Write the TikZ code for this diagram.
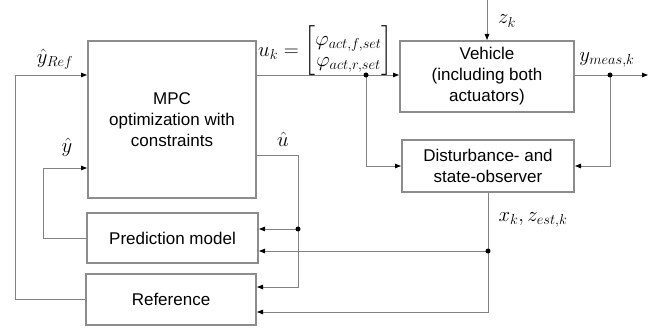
\documentclass[tikz,border=0pt]{standalone}
\usepackage{amsmath}
\usepackage{fontspec}
\setmainfont{Liberation Sans}
\usetikzlibrary{arrows.meta}
\definecolor{boxgray}{RGB}{140,140,140}
\definecolor{linegray}{RGB}{130,130,130}
\tikzset{
  blk/.style={draw=boxgray, line width=2pt, fill=white, align=center, inner sep=2pt,
    font=\fontsize{17}{21}\selectfont},
  conn/.style={draw=linegray, line width=0.8pt},
  arr/.style={conn, -{Triangle[length=6pt,width=4.5pt,color=black]}},
  lbl/.style={font=\fontsize{20}{24}\selectfont, inner sep=0pt},
  dotc/.style={circle, fill=black, inner sep=0pt, minimum size=5pt}
}
\begin{document}
\begin{tikzpicture}[x=1pt,y=-1pt]
\useasboundingbox (0,0) rectangle (660,331);
% blocks
\node[blk, minimum width=168pt, minimum height=157pt] (MPC) at (172,119.5) {MPC\\optimization  with\\constraints};
\node[blk, minimum width=174pt, minimum height=71pt] (Veh) at (487,76.5) {Vehicle\\(including  both\\actuators)};
\node[blk, minimum width=172pt, minimum height=52pt] (Dist) at (488,166) {Disturbance-  and\\state-observer};
\node[blk, minimum width=171pt, minimum height=50pt] (Pred) at (172.5,238) {Prediction  model};
\node[blk, minimum width=170pt, minimum height=51pt] (Ref) at (171,299.5) {Reference};
% coordinates
\coordinate (d1) at (366,75);
\coordinate (d2) at (610,75);
\coordinate (out) at (648,75);
\coordinate (ztop) at (487,0);
\coordinate (yl) at (15,75);
\coordinate (yh) at (43,168);
\coordinate (uh) at (298,155);
\coordinate (d3) at (298,229);
\coordinate (ur) at (298,287);
\coordinate (d4) at (488,251);
\coordinate (xb) at (488,312);
% connectors
\draw[conn] (MPC.east|-d1) -- (d1);
\draw[arr] (d1) -- (Veh.west|-d1);
\draw[arr] (d1) |- (Dist.west);
\draw[conn] (Veh.east|-d2) -- (d2);
\draw[arr] (d2) -- (out);
\draw[arr] (d2) |- (Dist.east);
\draw[arr] (ztop) -- (Veh.north);
\draw[arr] (Ref.west) -| (yl) -- (MPC.west|-yl);
\draw[arr] (Pred.west) -| (yh) -- (MPC.west|-yh);
\draw[conn] (MPC.east|-uh) -| (d3);
\draw[arr] (d3) -- (Pred.east|-d3);
\draw[arr] (d3) -- (ur) -- (Ref.east|-ur);
\draw[conn] (Dist.south) -- (d4);
\draw[arr] (d4) -- (Pred.east|-d4);
\draw[arr] (d4) -- (xb) -- (Ref.east|-xb);
% dots
\node[dotc] (n1) at (d1) {};
\node[dotc] (n2) at (d2) {};
\node[dotc] (n3) at (d3) {};
\node[dotc] (n4) at (d4) {};
% labels
\node[lbl] (lyref) at (55,59) {$\hat{y}_{Ref}$};
\node[lbl] (lyh) at (67,147) {$\hat{y}$};
\node[lbl, anchor=west] (luk) at (258,51) {$u_k=\begin{bmatrix}\varphi_{act,f,set}\\[-3pt] \varphi_{act,r,set}\end{bmatrix}$};
\node[lbl] (luh) at (283,139) {$\hat{u}$};
\node[lbl] (lzk) at (507,21) {$z_k$};
\node[lbl] (lym) at (607,60) {$y_{meas,k}$};
\node[lbl] (lxk) at (533,220) {$x_k,z_{est,k}$};
\end{tikzpicture}
\end{document}
